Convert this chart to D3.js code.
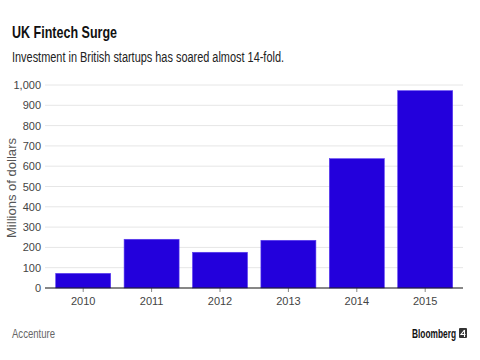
<!DOCTYPE html>
<html><head><meta charset="utf-8">
<script src="https://cdn.jsdelivr.net/npm/d3@7"></script>
<style>body{margin:0;background:#fff}svg{display:block}</style>
</head><body>
<script>
const years = ["2010","2011","2012","2013","2014","2015"];
const investment = [72, 240, 176, 235, 637, 972];
const yTicks = [0,100,200,300,400,500,600,700,800,900,1000];

const W = 480, H = 360;
const svg = d3.select("body").append("svg").attr("width", W).attr("height", H);
const font = "'Liberation Sans Narrow','Liberation Sans',Arial,sans-serif";

const x = d3.scaleBand().domain(years).range([49, 459.4]).paddingInner(0.196).paddingOuter(0.098);
const y = d3.scaleLinear().domain([0, 1000]).range([288, 85]);

// gridlines
svg.append("g").selectAll("line").data(yTicks.filter(d => d > 0)).join("line")
  .attr("x1", 45).attr("x2", 463)
  .attr("y1", d => y(d)).attr("y2", d => y(d))
  .attr("stroke", "#e6e6e6").attr("stroke-width", 1);

// y axis labels
const yAxis = d3.axisLeft(y).tickValues(yTicks).tickSize(0).tickPadding(4).tickFormat(d3.format(","));
const ya = svg.append("g").attr("transform", "translate(45,0)").call(yAxis);
ya.select(".domain").remove();
ya.selectAll("text").attr("font-family", font).attr("font-size", 11).attr("fill", "#444");

// bars
svg.append("g").selectAll("rect").data(investment).join("rect")
  .attr("x", (d, i) => x(years[i]))
  .attr("y", d => y(d))
  .attr("width", x.bandwidth())
  .attr("height", d => y(0) - y(d))
  .attr("fill", "#2300dc")
  .attr("stroke", "#5a3cf0").attr("stroke-width", 0.6);

// x axis
const xAxis = d3.axisBottom(x).tickSize(4).tickPadding(5);
const xa = svg.append("g").attr("transform", "translate(0,288)").call(xAxis);
xa.select(".domain").remove();
xa.selectAll(".tick line").attr("stroke", "#888");
xa.selectAll("text").attr("font-family", font).attr("font-size", 11).attr("fill", "#444");
svg.append("line").attr("x1", 45).attr("x2", 463).attr("y1", 288).attr("y2", 288)
  .attr("stroke", "#111").attr("stroke-width", 1.2);

// y axis title
svg.append("text").attr("transform", "translate(16,188) rotate(-90)")
  .attr("text-anchor", "middle").attr("font-family", "'Liberation Sans',Arial,sans-serif")
  .attr("font-size", 12).attr("fill", "#555")
  .attr("textLength", 100).attr("lengthAdjust", "spacingAndGlyphs").text("Millions of dollars");

// title and subtitle
svg.append("text").attr("x", 12).attr("y", 38).attr("font-family", font)
  .attr("font-size", 17).attr("font-weight", "bold").attr("fill", "#111")
  .attr("textLength", 105).attr("lengthAdjust", "spacingAndGlyphs").text("UK Fintech Surge");
svg.append("text").attr("x", 12).attr("y", 62).attr("font-family", font)
  .attr("font-size", 14).attr("fill", "#222")
  .attr("textLength", 272).attr("lengthAdjust", "spacingAndGlyphs")
  .text("Investment in British startups has soared almost 14-fold.");

// footer
svg.append("text").attr("x", 12).attr("y", 338).attr("font-family", font)
  .attr("font-size", 12).attr("fill", "#666")
  .attr("textLength", 43).attr("lengthAdjust", "spacingAndGlyphs").text("Accenture");
svg.append("text").attr("x", 412).attr("y", 338).attr("font-family", font)
  .attr("font-size", 12).attr("font-weight", "bold").attr("fill", "#111")
  .attr("textLength", 44).attr("lengthAdjust", "spacingAndGlyphs").text("Bloomberg");
svg.append("rect").attr("x", 459).attr("y", 328).attr("width", 8).attr("height", 10)
  .attr("rx", 1).attr("fill", "#333");
svg.append("path").attr("d", "M464.5,330 L461,334.5 L465.5,334.5 M464.5,330 L464.5,337")
  .attr("stroke", "#fff").attr("stroke-width", 1.1).attr("fill", "none");
</script>
</body></html>
